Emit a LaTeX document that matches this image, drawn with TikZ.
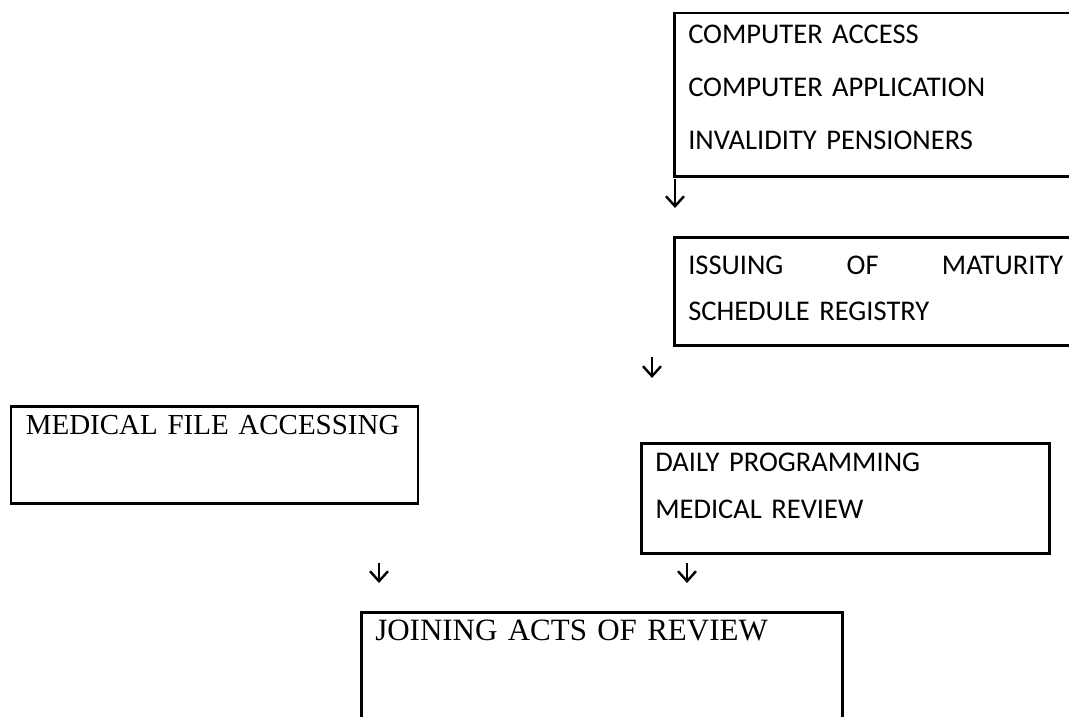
\documentclass[tikz,border=0pt]{standalone}
\usepackage{fontspec}
\setmainfont{Liberation Serif}
\newfontfamily\calibri{Carlito}
\usetikzlibrary{arrows.meta, positioning}
\tikzset{
  every picture/.style={x=1pt, y=-1pt, line width=2.5pt},
  box/.style={draw=black, anchor=north west, align=left, inner xsep=14pt, inner ysep=0pt},
  sansbox/.style={box, font=\calibri\fontsize{28.5}{#1}\selectfont},
  serifbox/.style={box, font=\fontsize{#1}{#1}\selectfont},
  arrow/.style={-{Straight Barb[length=10pt, width=18pt, line width=2.4pt]}, line width=2pt},
}

\begin{document}
\begin{tikzpicture}
  \clip (0,0) rectangle (1069,717);
  % right column
  \node[sansbox=53, text width=375pt, text height=30pt, text depth=133pt] (access) at (673,12)
    {COMPUTER ACCESS\\COMPUTER APPLICATION\\INVALIDITY PENSIONERS};
  \node[sansbox=46, text width=375pt, text height=37pt, text depth=71pt] (issuing) at (673,236)
    {ISSUING\hfill OF\hfill MATURITY\\SCHEDULE REGISTRY};
  \node[sansbox=47, text width=380pt, text height=28pt, text depth=82pt] (daily) at (640,442)
    {DAILY PROGRAMMING\\MEDICAL REVIEW};
  % left and bottom
  \node[serifbox=29, inner xsep=15pt, text width=377pt, text height=28pt, text depth=69pt] (medfile) at (9.5,405)
    {MEDICAL FILE ACCESSING};
  \node[serifbox=31, text width=453pt, text height=28pt, text depth=150pt] (joining) at (360,611)
    {JOINING ACTS OF REVIEW};
  % arrows
  \coordinate (a1) at (675,179); \coordinate (a1e) at (675,208);
  \coordinate (a2) at (652,357); \coordinate (a2e) at (652,378);
  \coordinate (a3) at (379,563); \coordinate (a3e) at (379,583);
  \coordinate (a4) at (687,563); \coordinate (a4e) at (687,583);
  \draw[arrow] (a1) -- (a1e);
  \draw[arrow] (a2) -- (a2e);
  \draw[arrow] (a3) -- (a3e);
  \draw[arrow] (a4) -- (a4e);
\end{tikzpicture}
\end{document}
